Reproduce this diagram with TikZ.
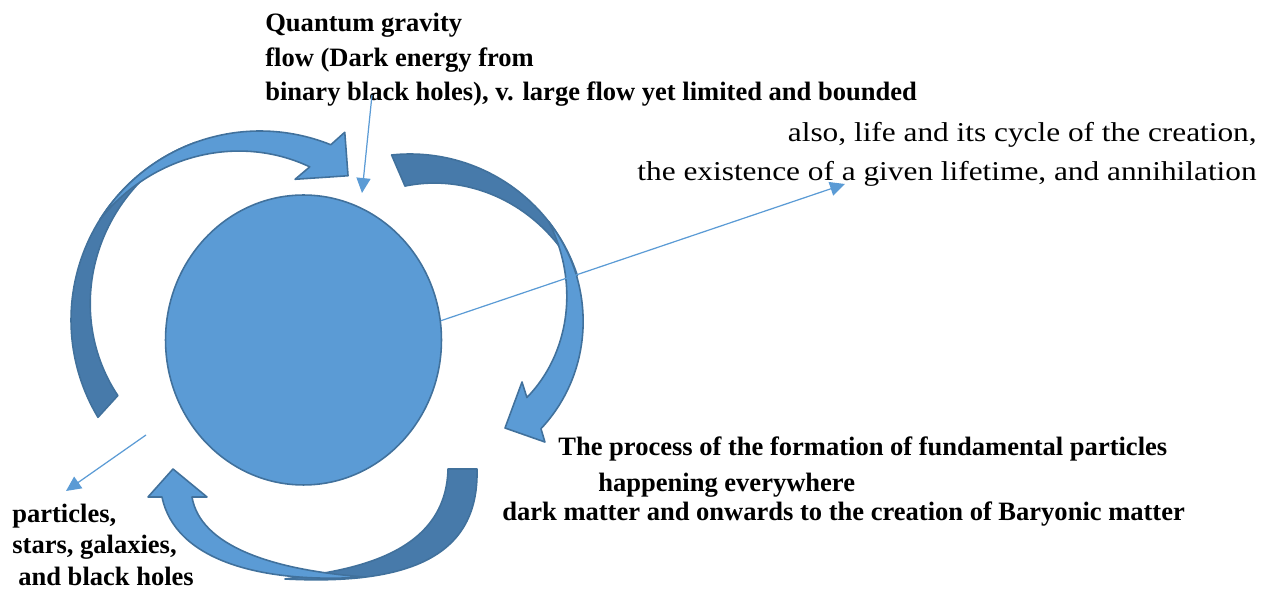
\documentclass[tikz,border=0pt]{standalone}
\usepackage{fontspec}
\setmainfont{Liberation Serif}
\newfontfamily\widefont[FakeStretch=1.15]{Liberation Serif}
\usetikzlibrary{arrows.meta,shapes.geometric}
\definecolor{cyclefill}{RGB}{91,155,213}
\definecolor{cycleedge}{RGB}{65,113,156}
\definecolor{cycleback}{RGB}{71,122,170}
\tikzset{
  front/.style={fill=cyclefill,draw=cycleedge,line width=0.9pt,line join=round},
  back/.style={fill=cycleback,draw=cycleedge,line width=0.9pt,line join=round},
  pointer/.style={draw=cyclefill,line width=0.7pt,-{Triangle[length=8.5pt,width=8pt]}},
  boldline/.style={font=\fontsize{15.1}{17}\selectfont\bfseries,anchor=base west,inner sep=0pt},
  plainline/.style={font=\widefont\fontsize{15.5}{18}\selectfont,anchor=base east,inner sep=0pt}
}
\begin{document}
\begin{tikzpicture}[x=0.02cm,y=-0.02cm]
\useasboundingbox (0,0) rectangle (1272,590);
% upper left arrow
\begin{scope}[shift={(260,320)}]
\filldraw[back] plot[domain=149:250,samples=60] (\x:189)
  -- plot[domain=250:152,samples=60] (\x:{161+28*(\x-152)/98}) -- cycle;
\filldraw[front] plot[domain=212:292,samples=60] (\x:189)
  -- (294.3:206) -- (301.4:169) -- (284:145)
  -- plot[domain=288:212,samples=60] (\x:{189-28*(\x-212)/76}) -- cycle;
\end{scope}
% right arrow
\begin{scope}[shift={(410,330)}]
\filldraw[back] plot[domain=264:342,samples=60] (\x:176)
  -- plot[domain=342:268,samples=60] (\x:{144+32*(\x-268)/74}) -- cycle;
\filldraw[front] plot[domain=322:397,samples=60] (\x:{176-12*((\x-322)/75)^2})
  -- (399.7:175.4) -- (405.9:136.5) -- (384.9:123.5)
  -- plot[domain=390:322,samples=60] (\x:{176-41*(\x-322)/68}) -- cycle;
\end{scope}
% bottom arrow
\filldraw[back] (477,469) .. controls (479,550) and (420,586) .. (285,579)
  .. controls (340,571) and (446,560) .. (448,469) -- cycle;
\filldraw[front] (365,577) .. controls (260,584) and (175,560) .. (162,497)
  -- (148,497) -- (173,469) -- (207,497) -- (192,497)
  .. controls (200,545) and (270,570) .. (365,577) -- cycle;
% core
\node[front,ellipse,minimum width=5.52cm,minimum height=5.8cm,inner sep=0pt] (core) at (303.5,340) {};
% labels
\node[boldline] (qg1) at (265,32) {Quantum gravity};
\node[boldline] (qg2) at (265,67) {flow (Dark energy from};
\node[boldline] (qg3) at (265,101) {binary black holes), v. large flow yet limited and bounded};
\node[plainline] (life1) at (1257,142) {also, life and its cycle of the creation,};
\node[plainline] (life2) at (1257,181) {the existence of a given lifetime, and annihilation};
\node[boldline] (proc1) at (558,456) {The process of the formation of fundamental particles};
\node[boldline] (proc2) at (598,492) {happening everywhere};
\node[boldline] (proc3) at (502,521) {dark matter and onwards to the creation of Baryonic matter};
\node[boldline] (out1) at (12,523) {particles,};
\node[boldline] (out2) at (12,554) {stars, galaxies,};
\node[boldline] (out3) at (18,586) {and black holes};
% pointers
\coordinate (qgfrom) at (372,95);
\coordinate (qgto) at (362,193);
\coordinate (lifeto) at (845,184);
\coordinate (outfrom) at (146,435);
\coordinate (outto) at (66,491);
\draw[pointer] (qgfrom) -- (qgto);
\draw[pointer] (core.8) -- (lifeto);
\draw[pointer] (outfrom) -- (outto);
\end{tikzpicture}
\end{document}
